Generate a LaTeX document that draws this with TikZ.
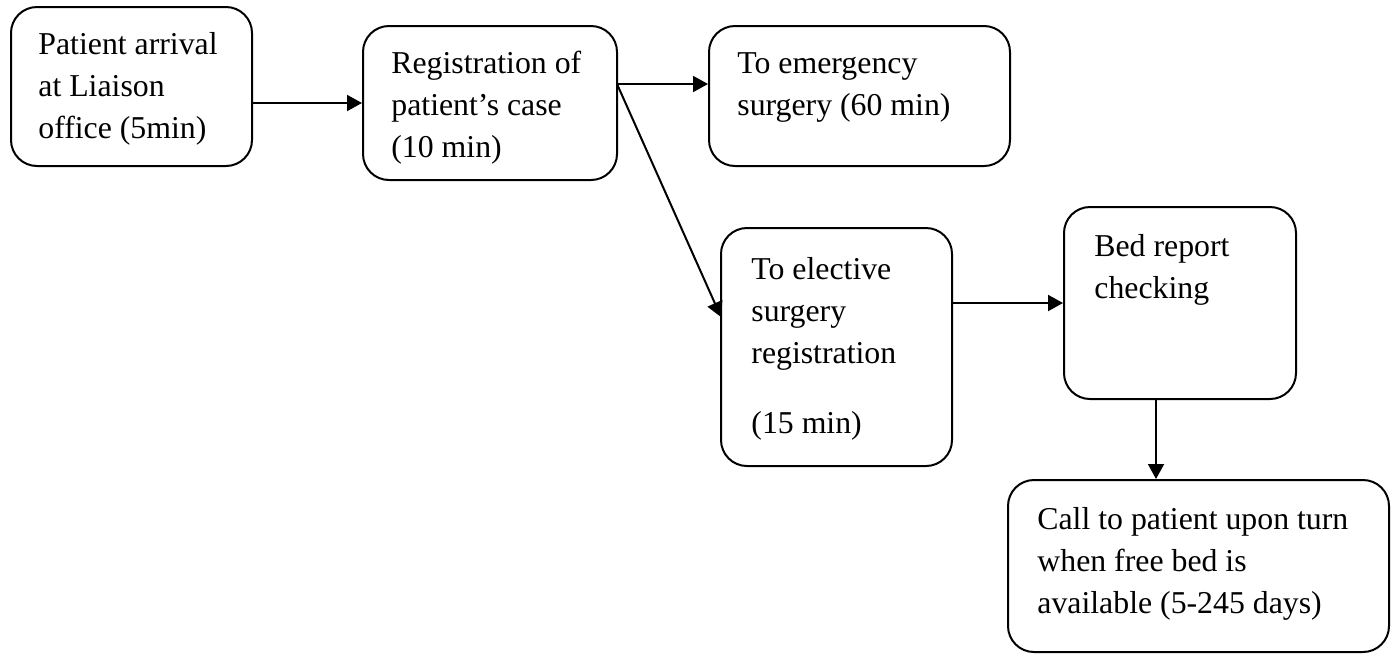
\documentclass[tikz,border=0pt]{standalone}
\usepackage{fontspec}
\setmainfont{Liberation Serif}
\usetikzlibrary{arrows.meta,fit}

\begin{document}
\begin{tikzpicture}[x=0.5pt,y=-0.5pt,
  box/.style={draw, line width=1pt, rounded corners=13pt, inner sep=0pt},
  txt/.style={anchor=north west, inner sep=0pt, align=left,
    font=\fontsize{15.9}{21}\selectfont},
  arr/.style={line width=1pt, -{Triangle[length=7.5pt,width=8pt]}}]

  \useasboundingbox (0,0) rectangle (1396,654);

  % process boxes
  \node[box, fit={(11,7) (252,166)}] (b1) {};
  \node[box, fit={(363,26) (617,180)}] (b2) {};
  \node[box, fit={(709,26) (1010,166)}] (b3) {};
  \node[box, fit={(721,228) (952,466)}] (b4) {};
  \node[box, fit={(1064,207) (1296,399)}] (b5) {};
  \node[box, fit={(1008,480) (1389,652)}] (b6) {};

  % box texts (first baseline sits 14.7pt below each node top)
  \node[txt] (t1) at ([yshift=14.7pt]38,54) {\strut Patient arrival\\at Liaison\\office (5min)};
  \node[txt] (t2) at ([yshift=14.7pt]391,73) {\strut Registration of\\patient’s case\\(10 min)};
  \node[txt] (t3) at ([yshift=14.7pt]737,73) {\strut To emergency\\surgery (60 min)};
  \node[txt] (t4) at ([yshift=14.7pt]751,279) {\strut To elective\\surgery\\registration\\[14pt](15 min)};
  \node[txt] (t5) at ([yshift=14.7pt]1094,256) {\strut Bed report\\checking};
  \node[txt] (t6) at ([yshift=14.7pt]1037,529) {\strut Call to patient upon turn\\when free bed is\\available (5-245 days)};

  % connector end points
  \coordinate (split) at (617,84);
  \coordinate (elecin) at (721,317);
  \coordinate (downx) at (1156,0);

  % connectors
  \draw[arr] (b1.east |- b2.west) -- (b2.west);
  \draw[arr] (split) -- (split -| b3.west);
  \draw[arr] (split) -- (elecin);
  \draw[arr] (b4.east |- b5.west) -- (b5.west);
  \draw[arr] (b5.south -| downx) -- (b6.north -| downx);
\end{tikzpicture}
\end{document}
